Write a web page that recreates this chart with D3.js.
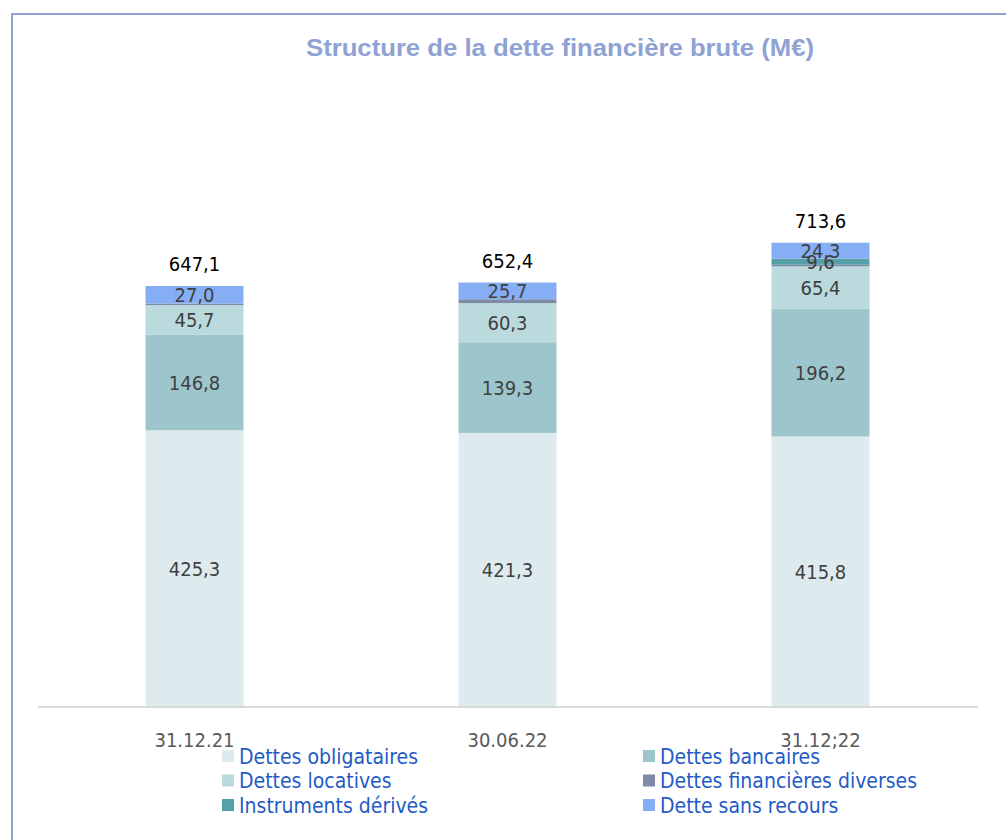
<!DOCTYPE html>
<html>
<head>
<meta charset="utf-8">
<script src="https://cdn.jsdelivr.net/npm/d3@7"></script>
<style>
  body { margin: 0; background: #fff; }
  svg text { font-family: "DejaVu Sans Condensed", "DejaVu Sans", sans-serif; }
</style>
</head>
<body>
<div id="chart"></div>
<script>
// data
const dates = ["31.12.21", "30.06.22", "31.12;22"];
const series = ["Dettes obligataires", "Dettes bancaires", "Dettes locatives",
  "Dettes financières diverses", "Instruments dérivés", "Dette sans recours"];
const obligataires = [425.3, 421.3, 415.8];
const bancaires = [146.8, 139.3, 196.2];
const locatives = [45.7, 60.3, 65.4];
const diverses = [2.3, 5.8, 2.3];
const derives = [0, 0, 9.6];
const sansRecours = [27.0, 25.7, 24.3];
const totals = [647.1, 652.4, 713.6];

const colors = ["#ddeaee", "#9dc6cc", "#badadd", "#7e8aa6", "#56a0a8", "#86aef4"];
const showLabel = [true, true, true, false, true, true];

const svgWidth = 1006, svgHeight = 840;
const fmt = v => v.toFixed(1).replace(".", ",");

const svg = d3.select("#chart").append("svg")
  .attr("width", svgWidth)
  .attr("height", svgHeight);

// frame
svg.append("path")
  .attr("d", "M12,840 V14 H1006")
  .attr("fill", "none")
  .attr("stroke", "#8fa2d4")
  .attr("stroke-width", 2);

svg.append("text")
  .attr("x", 560).attr("y", 56)
  .attr("text-anchor", "middle")
  .style("font-family", "'Liberation Sans', Arial, sans-serif")
  .style("font-weight", "bold")
  .style("font-size", "24px")
  .attr("textLength", 508)
  .attr("lengthAdjust", "spacingAndGlyphs")
  .attr("fill", "#8ea2d4")
  .text("Structure de la dette financière brute (M€)");

const rows = dates.map((d, i) => ({
  date: d,
  "Dettes obligataires": obligataires[i],
  "Dettes bancaires": bancaires[i],
  "Dettes locatives": locatives[i],
  "Dettes financières diverses": diverses[i],
  "Instruments dérivés": derives[i],
  "Dette sans recours": sansRecours[i],
  total: totals[i]
}));

const baseY = 707;
const x = d3.scaleBand().domain(dates).range([38, 977]).paddingInner(0.687).paddingOuter(0.3435);
const y = d3.scaleLinear().domain([0, 1000]).range([baseY, baseY - 650.6]);

const stacked = d3.stack().keys(series)(rows);

const layers = svg.selectAll("g.layer")
  .data(stacked)
  .join("g")
  .attr("class", "layer")
  .attr("fill", (d, i) => colors[i]);

layers.selectAll("rect")
  .data(d => d)
  .join("rect")
  .attr("x", d => x(d.data.date))
  .attr("width", x.bandwidth())
  .attr("y", d => y(d[1]))
  .attr("height", d => y(d[0]) - y(d[1]));

// axis line
svg.append("line")
  .attr("x1", 38).attr("x2", 978)
  .attr("y1", baseY).attr("y2", baseY)
  .attr("stroke", "#d9d9d9")
  .attr("stroke-width", 2);

// segment labels
stacked.forEach((layer, li) => {
  if (!showLabel[li]) return;
  svg.append("g").selectAll("text")
    .data(layer.filter(d => d[1] - d[0] > 0))
    .join("text")
    .attr("x", d => x(d.data.date) + x.bandwidth() / 2)
    .attr("y", d => y((d[0] + d[1]) / 2))
    .attr("dy", "0.36em")
    .attr("text-anchor", "middle")
    .style("font-size", "20px")
    .attr("fill", "#404040")
    .text(d => fmt(d[1] - d[0]));
});

// totals
svg.append("g").selectAll("text")
  .data(rows)
  .join("text")
  .attr("x", d => x(d.date) + x.bandwidth() / 2)
  .attr("y", d => y(d.total) - 15)
  .attr("text-anchor", "middle")
  .style("font-size", "20px")
  .attr("fill", "#000")
  .text(d => fmt(d.total));

// category labels
svg.append("g").selectAll("text")
  .data(dates)
  .join("text")
  .attr("x", d => x(d) + x.bandwidth() / 2)
  .attr("y", 747)
  .attr("text-anchor", "middle")
  .style("font-size", "20px")
  .attr("fill", "#595959")
  .text(d => d);

// legend
const legend = svg.append("g").selectAll("g")
  .data(series)
  .join("g")
  .attr("transform", (d, i) => `translate(${i % 2 === 0 ? 222 : 643},${756 + Math.floor(i / 2) * 24.5})`);

legend.append("rect")
  .attr("x", 0).attr("y", -6)
  .attr("width", 12).attr("height", 12)
  .attr("fill", (d, i) => colors[i]);

legend.append("text")
  .attr("x", 17).attr("y", 0)
  .attr("dy", "0.36em")
  .style("font-size", "21px")
  .attr("fill", "#1f5bc6")
  .text(d => d);
</script>
</body>
</html>
